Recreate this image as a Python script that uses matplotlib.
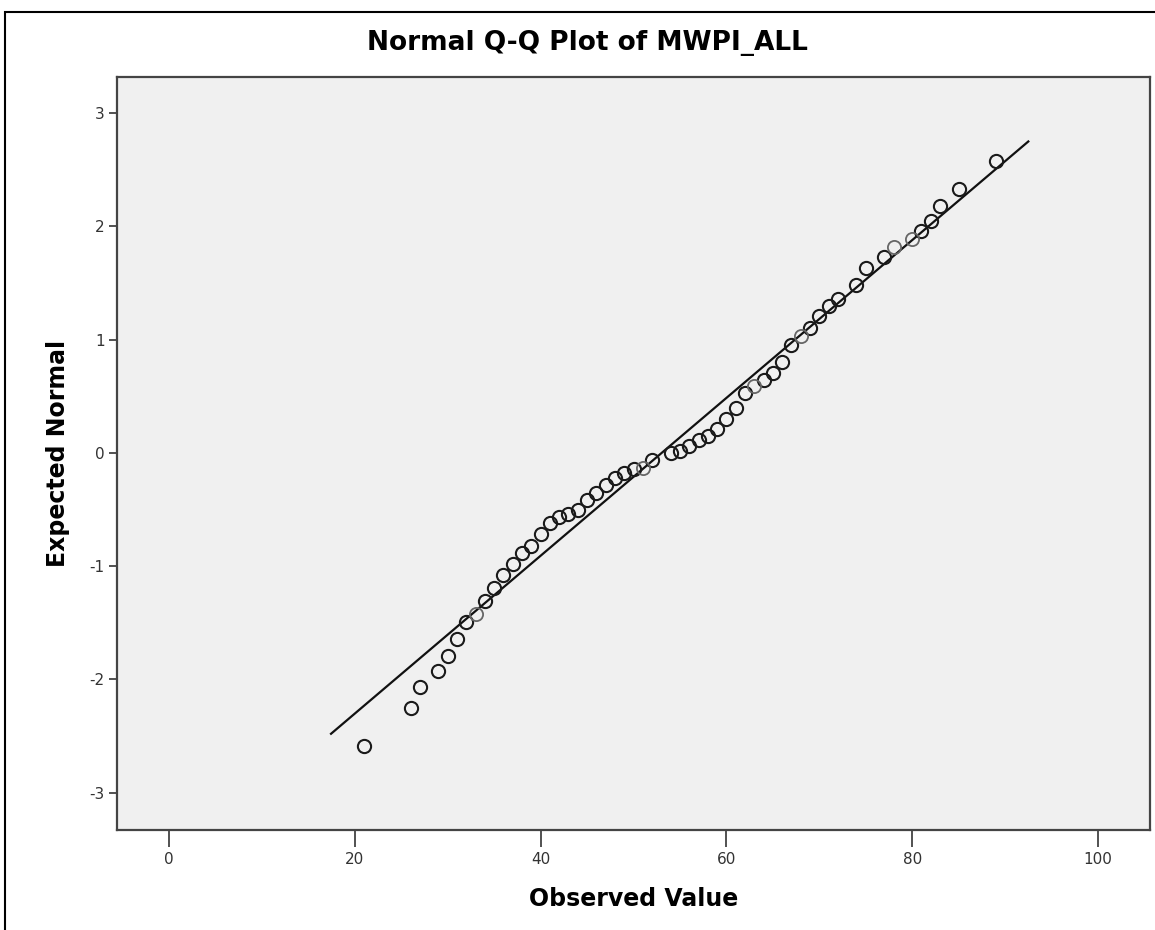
import numpy as np
import matplotlib.pyplot as plt
from matplotlib.patches import Rectangle

observed = [21, 26, 27, 29, 30, 31, 32, 33, 34, 35, 36, 37, 38, 39, 40,
            41, 42, 43, 44, 45, 46, 47, 48, 49, 50, 51, 52, 54, 55, 56,
            57, 58, 59, 60, 61, 62, 63, 64, 65, 66, 67, 68, 69, 70, 71,
            72, 74, 75, 77, 78, 80, 81, 82, 83, 85, 89]
expected = [-2.59, -2.25, -2.07, -1.93, -1.79, -1.64, -1.49, -1.42, -1.31, -1.19,
            -1.08, -0.98, -0.88, -0.82, -0.72, -0.62, -0.57, -0.54, -0.50, -0.42,
            -0.35, -0.28, -0.22, -0.18, -0.14, -0.13, -0.06, -0.005, 0.02, 0.06,
            0.11, 0.15, 0.215, 0.30, 0.40, 0.53, 0.59, 0.64, 0.71, 0.805,
            0.955, 1.035, 1.10, 1.21, 1.30, 1.36, 1.48, 1.63, 1.73, 1.82,
            1.89, 1.96, 2.05, 2.18, 2.33, 2.58]
# points that render lighter in the original
light_values = [33, 51, 63, 68, 78, 80]

# reference line endpoints (observed value) and normal fit
line_x = [17.44, 92.5]
fit_mean = 53.03
fit_sd = 14.35

xticks = [0, 20, 40, 60, 80, 100]
yticks = [-3, -2, -1, 0, 1, 2, 3]

plt.rcParams['font.family'] = ['DejaVu Sans']
plt.rcParams['axes.unicode_minus'] = False

fig = plt.figure(figsize=(11.55, 9.3), dpi=100)
fig.patch.set_facecolor('white')

# outer frame (left and top edges visible)
fig.patches.append(Rectangle((5 / 1155, -0.1), 1.2, 1 - 12 / 930 + 0.1,
                             transform=fig.transFigure, fill=False,
                             edgecolor='black', linewidth=1.5))

ax = fig.add_axes([117 / 1155, 1 - 830 / 930, (1150 - 117) / 1155, (830 - 77) / 930])
ax.set_facecolor('#f0f0f0')

lx = np.array(line_x)
ax.plot(lx, (lx - fit_mean) / fit_sd, color='#111111', linewidth=1.6, zorder=2)

obs = np.array(observed)
exp_ = np.array(expected)
is_light = np.isin(obs, light_values)
ax.plot(obs[~is_light], exp_[~is_light], 'o', markersize=9.5, markerfacecolor='none',
        markeredgecolor='#1a1a1a', markeredgewidth=1.5, zorder=3)
ax.plot(obs[is_light], exp_[is_light], 'o', markersize=9.5, markerfacecolor='none',
        markeredgecolor='#666666', markeredgewidth=1.3, zorder=3)

ax.set_xlim(-5.6, 105.6)
ax.set_ylim(-3.33, 3.32)
ax.set_xticks(xticks)
ax.set_yticks(yticks)
ax.tick_params(axis='x', length=12, width=1.2, labelsize=11, pad=4,
               color='#333333', labelcolor='#333333')
ax.tick_params(axis='y', length=6, width=1.2, labelsize=11, pad=3,
               color='#333333', labelcolor='#333333')

for side in ['top', 'right', 'bottom', 'left']:
    ax.spines[side].set_color('#444444')
    ax.spines[side].set_linewidth(1.6)

ax.set_xlabel('Observed Value', fontsize=17, fontweight='bold', labelpad=14)
ax.set_ylabel('Expected Normal', fontsize=17, fontweight='bold', labelpad=14)
fig.text(587 / 1155, 1 - 43 / 930, 'Normal Q-Q Plot of MWPI_ALL', fontsize=19,
         fontweight='bold', ha='center', va='center')

fig.savefig('out.png', dpi=100)
